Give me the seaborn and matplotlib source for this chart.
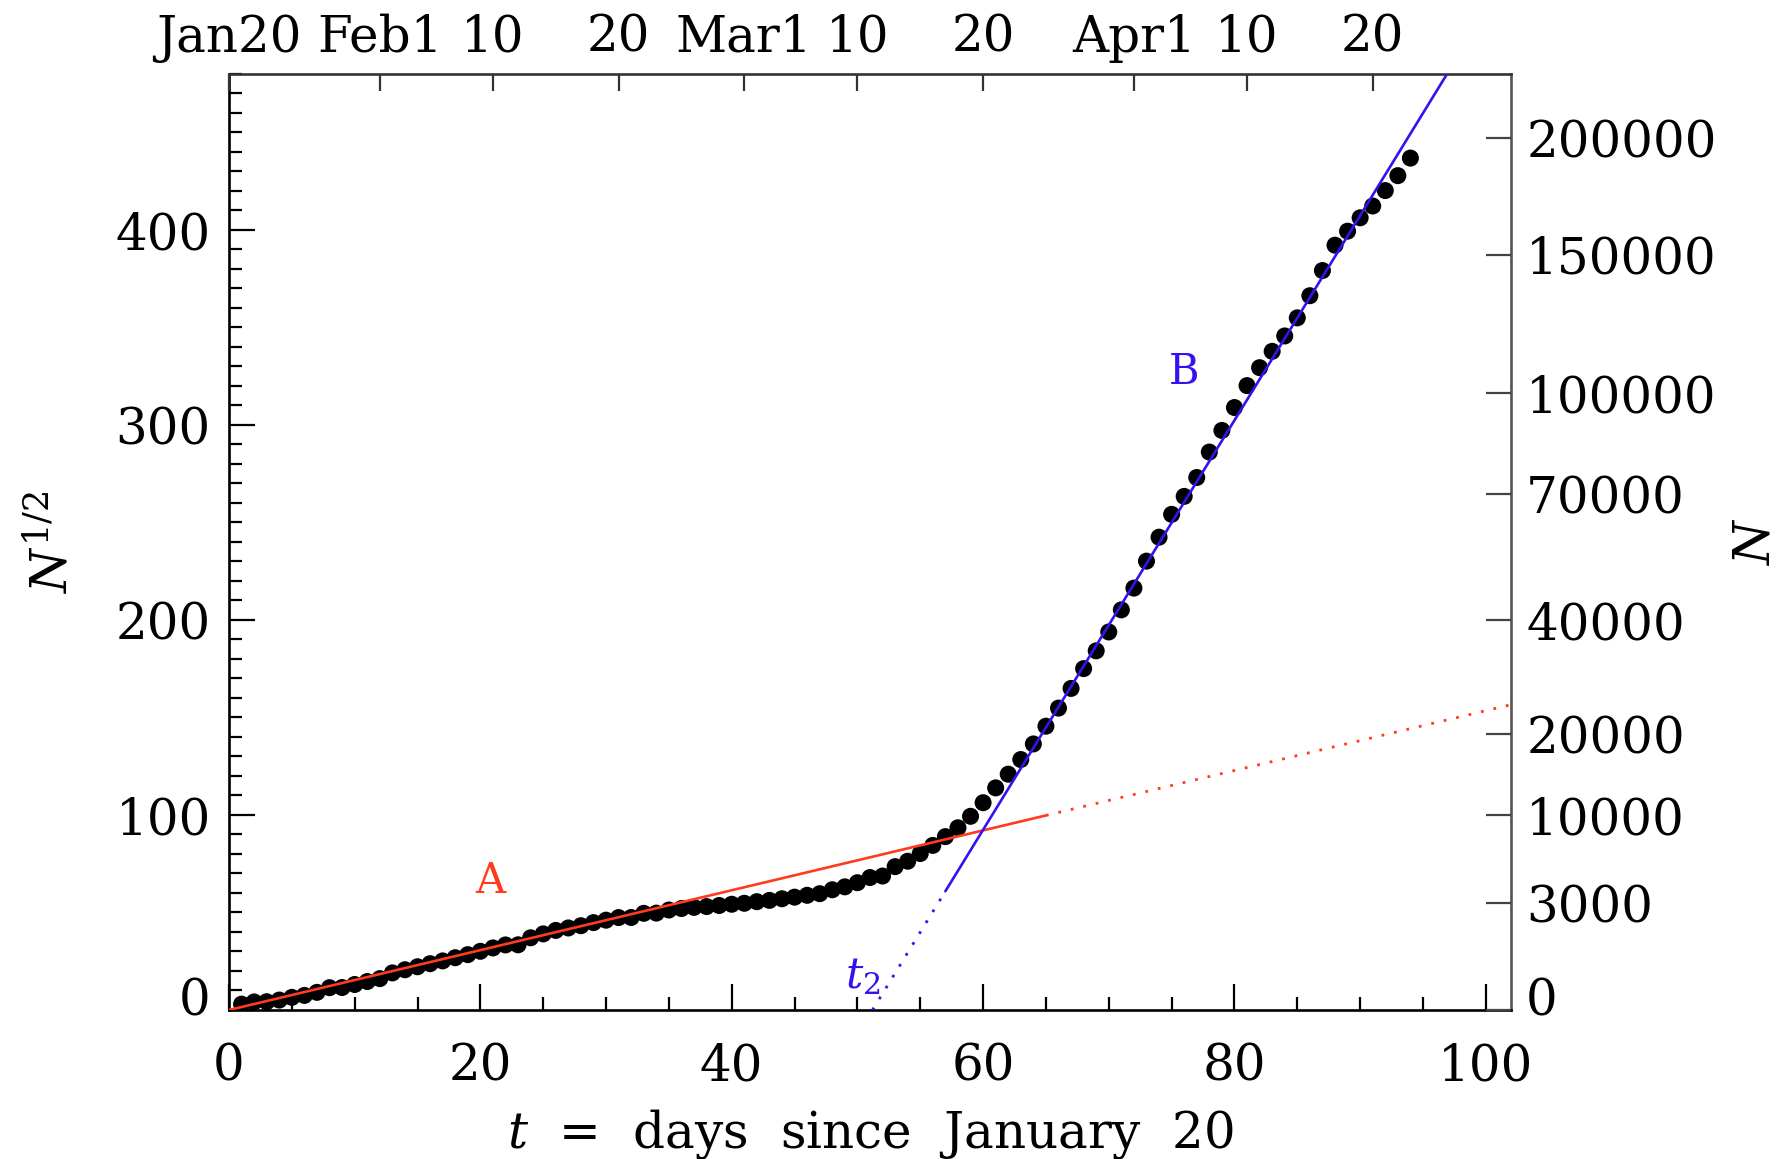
import numpy as np
import pandas as pd
import matplotlib
matplotlib.use("Agg")
import matplotlib.pyplot as plt
import seaborn as sns
from matplotlib.ticker import MultipleLocator
from matplotlib.transforms import ScaledTranslation

# ---------------- data ----------------
days = list(range(1, 95))
deaths = [9, 17, 18, 26, 42, 56, 82, 131, 133, 171,
          213, 259, 362, 426, 492, 564, 634, 719, 806, 906,
          1013, 1113, 1118, 1371, 1523, 1666, 1770, 1868, 2007, 2122,
          2247, 2251, 2458, 2469, 2629, 2708, 2770, 2814, 2872, 2941,
          2996, 3085, 3160, 3254, 3348, 3460, 3558, 3802, 3988, 4262,
          4615, 4720, 5404, 5819, 6440, 7126, 7905, 8733, 9867, 11299,
          12973, 14623, 16497, 18615, 21181, 23970, 27198, 30652, 33925, 37582,
          42107, 46809, 52983, 58787, 64606, 69374, 74565, 81865, 88338, 95455,
          102525, 108503, 114091, 119482, 125984, 134176, 143800, 153822, 159510, 165044,
          169991, 176583, 183067, 190858]

bottom_ticks = [0, 20, 40, 60, 80, 100]
left_ticks = [0, 100, 200, 300, 400]
top_tick_days = [0, 12, 21, 31, 41, 50, 60, 72, 81, 91]
top_tick_labels = ["Jan20", "Feb1", "10", "20", "Mar1", "10", "20", "Apr1", "10", "20"]
right_tick_N = [0, 3000, 10000, 20000, 40000, 70000, 100000, 150000, 200000]

# linear fits of N^(1/2) versus t
fitA_t0, fitA_slope, fitA_solid_end = 0.0, 1.535, 65.0
fitB_t0, fitB_slope, fitB_solid_start = 51.2, 10.5, 57.0

XMAX, YMAX = 102, 480
RED = "#ff3b1c"
BLUE = "#3312f0"
FS = 36

# ---------------- style ----------------
sns.set_style("ticks")
plt.rcParams["font.family"] = ["DejaVu Serif"]
plt.rcParams["mathtext.fontset"] = "dejavuserif"
plt.rcParams["font.size"] = FS
for k in ["text.color", "axes.labelcolor", "xtick.color", "ytick.color", "axes.edgecolor"]:
    plt.rcParams[k] = "black"

fig = plt.figure(figsize=(17.8, 11.59), dpi=100)
ax = fig.add_axes([0.12865, 0.12856, 0.7202, 0.8076])

df = pd.DataFrame({"t": days, "sqrtN": np.sqrt(np.array(deaths, dtype=float))})
sns.scatterplot(data=df, x="t", y="sqrtN", ax=ax, s=150, color="black",
                edgecolor="none", linewidth=0, zorder=3, legend=False)

dotted = (0, (1.0, 3.6))
# fit A
tA = np.array([fitA_t0, fitA_solid_end])
ax.plot(tA, fitA_slope * (tA - fitA_t0), color=RED, lw=1.9, zorder=4)
tA2 = np.array([fitA_solid_end, XMAX])
ax.plot(tA2, fitA_slope * (tA2 - fitA_t0), color=RED, lw=2.0, ls=dotted, zorder=4)
# fit B
tB = np.array([fitB_t0, fitB_solid_start])
ax.plot(tB, fitB_slope * (tB - fitB_t0), color=BLUE, lw=2.0, ls=dotted, zorder=4)
tB2 = np.array([fitB_solid_start, XMAX])
ax.plot(tB2, fitB_slope * (tB2 - fitB_t0), color=BLUE, lw=1.9, zorder=4)

ax.text(20.8, 66, "A", color=RED, fontsize=30, ha="center", va="center")
ax.text(76.0, 327, "B", color=BLUE, fontsize=30, ha="center", va="center")
ax.text(50.4, 17, r"$t_2$", color=BLUE, fontsize=31, ha="center", va="center")

ax.set_xlim(0, XMAX)
ax.set_ylim(0, YMAX)
ax.set_xticks(bottom_ticks, labels=[str(v) for v in bottom_ticks])
ax.set_yticks(left_ticks, labels=[str(v) for v in left_ticks])
ax.xaxis.set_minor_locator(MultipleLocator(5))
ax.yaxis.set_minor_locator(MultipleLocator(10))
ax.tick_params(axis="both", which="major", direction="in", length=18.5, width=1.6,
               top=False, right=False, labelsize=FS, color="black", labelcolor="black")
ax.tick_params(axis="both", which="minor", direction="in", length=9.3, width=1.6,
               top=False, right=False)
ax.tick_params(axis="x", which="major", pad=23)
ax.tick_params(axis="y", which="major", pad=13)

shift_up = ScaledTranslation(0, 10 / 72, fig.dpi_scale_trans)
lab0 = ax.yaxis.get_major_ticks()[0].label1
lab0.set_transform(lab0.get_transform() + shift_up)

ax.set_xlabel(r"$t$  =  days  since  January  20", fontsize=FS, labelpad=11)
ax.set_ylabel(r"$N^{1/2}$", fontsize=FS, labelpad=27)

for side in ["left", "bottom"]:
    ax.spines[side].set_linewidth(1.9)
    ax.spines[side].set_color("black")
ax.spines["top"].set_linewidth(1.9)
ax.spines["top"].set_color("#333333")
ax.spines["right"].set_linewidth(1.9)
ax.spines["right"].set_color("#555555")

# top axis (calendar dates)
axt = ax.twiny()
axt.set_xlim(0, XMAX)
axt.set_xticks(top_tick_days, labels=top_tick_labels)
axt.tick_params(axis="x", which="major", direction="in", length=12.2, width=1.6,
                labelsize=FS, pad=8, color="#333333", labelcolor="black")
axt.xaxis.set_minor_locator(plt.NullLocator())
for s in axt.spines.values():
    s.set_visible(False)

# right axis (N)
axr = ax.twinx()
axr.set_ylim(0, YMAX)
axr.set_yticks(np.sqrt(np.array(right_tick_N, dtype=float)),
               labels=[str(v) for v in right_tick_N])
axr.tick_params(axis="y", which="major", direction="in", length=18, width=1.6,
                labelsize=FS, pad=11, color="#444444", labelcolor="black")
axr.yaxis.set_minor_locator(plt.NullLocator())
lab0r = axr.yaxis.get_major_ticks()[0].label2
lab0r.set_transform(lab0r.get_transform() + shift_up)
axr.set_ylabel(r"$N$", fontsize=FS, labelpad=10, rotation=90)
for s in axr.spines.values():
    s.set_visible(False)

fig.savefig("out.png", dpi=100)
